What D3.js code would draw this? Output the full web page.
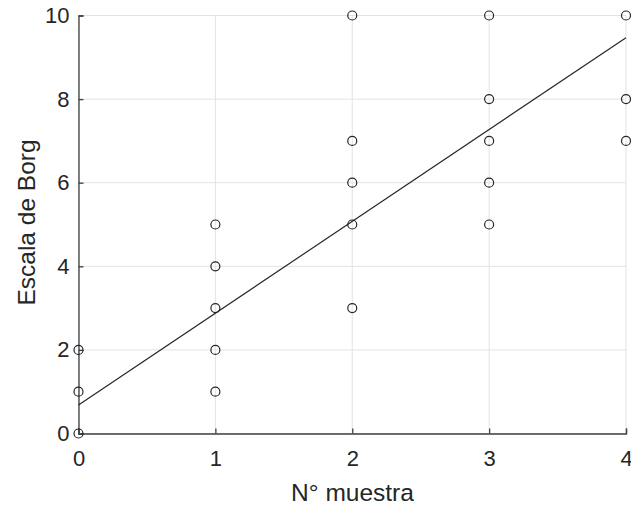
<!DOCTYPE html>
<html><head><meta charset="utf-8">
<script src="https://cdn.jsdelivr.net/npm/d3@7"></script>
<style>
html,body{margin:0;padding:0;background:#fff;}
svg{display:block;font-family:"Liberation Sans",Arial,Helvetica,sans-serif;}
</style></head>
<body><svg id="c" width="631" height="508"></svg>
<script>
const sampleX = [0,0,0, 1,1,1,1,1, 2,2,2,2,2, 3,3,3,3,3, 4,4,4];
const borgY   = [0,1,2, 1,2,3,4,5, 3,5,6,7,10, 5,6,7,8,10, 7,8,10];
const fitX = [0, 4];
const fitY = [0.68, 9.47];
const xTicks = [0,1,2,3,4];
const yTicks = [0,2,4,6,8,10];

const svg = d3.select("#c");
const L=78.5, R=626, T=15.5, B=433.5;
const x = d3.scaleLinear().domain([0,4]).range([L,R]);
const y = d3.scaleLinear().domain([0,10]).range([B,T]);

const g = svg.append("g");
// grid
g.selectAll(".gx").data(xTicks).join("line")
 .attr("x1",d=>x(d)).attr("x2",d=>x(d)).attr("y1",T).attr("y2",B)
 .attr("stroke","#e3e3e3").attr("stroke-width",1);
g.selectAll(".gy").data(yTicks).join("line")
 .attr("y1",d=>y(d)).attr("y2",d=>y(d)).attr("x1",L).attr("x2",R)
 .attr("stroke","#e3e3e3").attr("stroke-width",1);

// axes
const xa = svg.append("g").attr("transform",`translate(0,${B})`)
 .call(d3.axisBottom(x).tickValues(xTicks).tickSize(-5).tickPadding(17).tickFormat(d3.format("d")));
const ya = svg.append("g").attr("transform",`translate(${L},0)`)
 .call(d3.axisLeft(y).tickValues(yTicks).tickSize(-5).tickPadding(9).tickFormat(d3.format("d")));
[xa,ya].forEach(a=>{
  a.select(".domain").attr("stroke","#404040").attr("stroke-width",1.3);
  a.selectAll(".tick line").attr("stroke","#404040").attr("stroke-width",1.3);
  a.selectAll(".tick text").attr("fill","#262626").attr("font-size",22)
   .attr("font-family","Liberation Sans, Arial, sans-serif");
});

// fit line
svg.append("line")
 .attr("x1",x(fitX[0])).attr("y1",y(fitY[0]))
 .attr("x2",x(fitX[1])).attr("y2",y(fitY[1]))
 .attr("stroke","#262626").attr("stroke-width",1.2);

// points
svg.selectAll("circle.p").data(sampleX.map((d,i)=>[d,borgY[i]])).join("circle")
 .attr("class","p").attr("cx",d=>x(d[0])).attr("cy",d=>y(d[1])).attr("r",4.5)
 .attr("fill","none").attr("stroke","#262626").attr("stroke-width",1.2);

// labels
svg.append("text").attr("x",352.5).attr("y",500.5).attr("text-anchor","middle")
 .attr("font-size",24.5).attr("fill","#262626").text("N° muestra");
svg.append("text").attr("transform",`translate(35,222.5) rotate(-90)`)
 .attr("text-anchor","middle").attr("font-size",24.5).attr("fill","#262626").text("Escala de Borg");
</script></body></html>
